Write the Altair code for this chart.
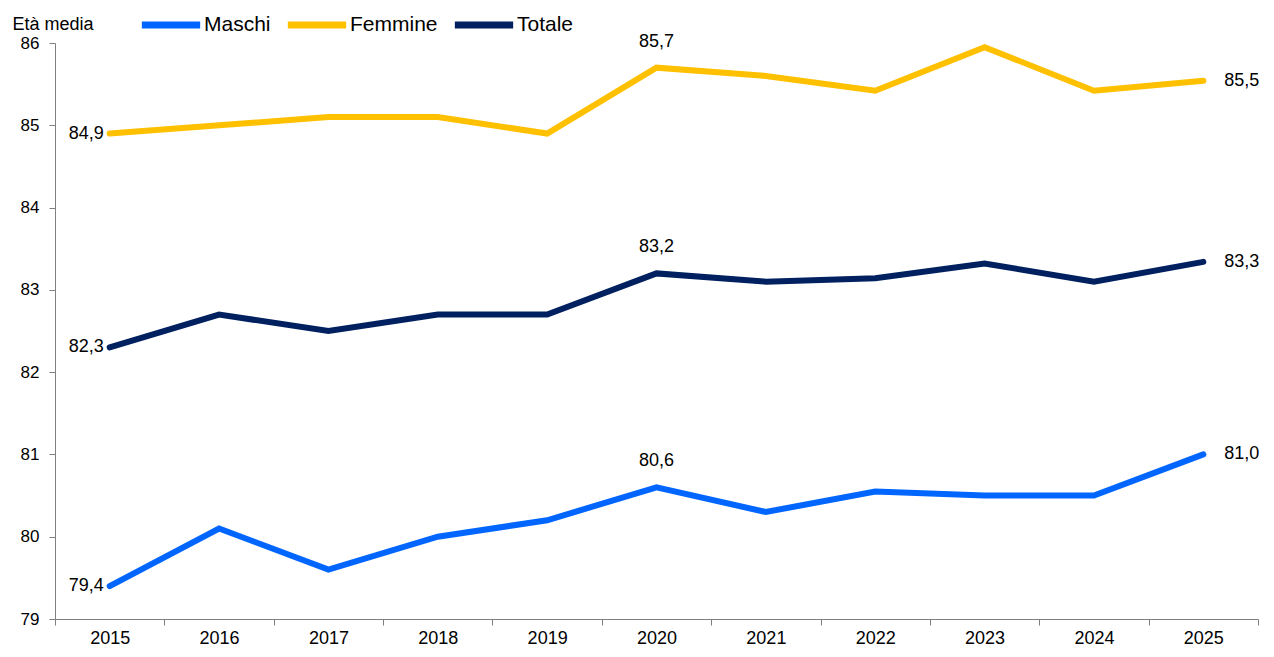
import altair as alt
import pandas as pd

years = [str(y) for y in range(2015, 2026)]
maschi = [79.4, 80.1, 79.6, 80.0, 80.2, 80.6, 80.3, 80.55, 80.5, 80.5, 81.0]
femmine = [84.9, 85.0, 85.1, 85.1, 84.9, 85.7, 85.6, 85.42, 85.95, 85.42, 85.54]
totale = [82.3, 82.7, 82.5, 82.7, 82.7, 83.2, 83.1, 83.14, 83.32, 83.1, 83.34]
series = ["Maschi", "Femmine", "Totale"]
colors = ["#0066FF", "#FFC000", "#002060"]
y_ticks = [79, 80, 81, 82, 83, 84, 85, 86]

rows = []
for name, vals in zip(series, [maschi, femmine, totale]):
    for yr, v in zip(years, vals):
        rows.append({"anno": yr, "serie": name, "valore": v,
                     "label": f"{v:.1f}".replace(".", ",")})
df = pd.DataFrame(rows)

FONT = "Liberation Sans"

x = alt.X("anno:O",
          scale=alt.Scale(type="band", paddingInner=0, paddingOuter=0),
          axis=alt.Axis(title=None, labelAngle=0, tickBand="extent",
                        labelFontSize=18, labelColor="black", labelFont=FONT,
                        tickSize=6, labelPadding=4, domainColor="#808080",
                        tickColor="#808080", grid=False),
          bandPosition=0.5)
y = alt.Y("valore:Q",
          scale=alt.Scale(domain=[79, 86], nice=False, zero=False),
          axis=alt.Axis(values=y_ticks, format="d", grid=False,
                        labelFontSize=17, labelColor="black", labelFont=FONT,
                        tickSize=6, labelPadding=10, domainColor="#808080",
                        tickColor="#808080",
                        title="Età media", titleAngle=0, titleX=-43, titleY=-19,
                        titleAlign="left", titleBaseline="middle",
                        titleFontSize=18, titleFontWeight="normal",
                        titleFont=FONT, titleColor="black"))
color = alt.Color("serie:N",
                  scale=alt.Scale(domain=series, range=colors),
                  sort=series,
                  legend=alt.Legend(title=None, orient="none", direction="horizontal",
                                    legendX=83, legendY=-51,
                                    symbolType="stroke", symbolStrokeWidth=7,
                                    symbolSize=3400, labelFontSize=21,
                                    labelFont=FONT, labelColor="black",
                                    labelOffset=0, columnPadding=2))

base = alt.Chart(df)
lines = base.mark_line(strokeWidth=6, strokeCap="round", strokeJoin="miter").encode(
    x=x, y=y, color=color, detail="serie:N")

txt_common = dict(fontSize=18, font=FONT, color="black", baseline="middle")
first = base.transform_filter(alt.datum.anno == years[0]).mark_text(
    align="right", dx=-6, **txt_common).encode(x=x, y=y, text="label:N")
mid = base.transform_filter(alt.datum.anno == "2020").mark_text(
    align="center", dy=-26, **txt_common).encode(x=x, y=y, text="label:N")
last = base.transform_filter(alt.datum.anno == years[-1]).mark_text(
    align="left", dx=21, **txt_common).encode(x=x, y=y, text="label:N")

chart = alt.layer(lines, first, mid, last).properties(
    width=1203, height=576,
    autosize=alt.AutoSizeParams(type="none"),
    padding={"left": 47, "top": 35, "right": 8, "bottom": 30},
).configure_view(stroke=None)

chart.save("out.html", embed_options={"renderer": "svg", "actions": False})
